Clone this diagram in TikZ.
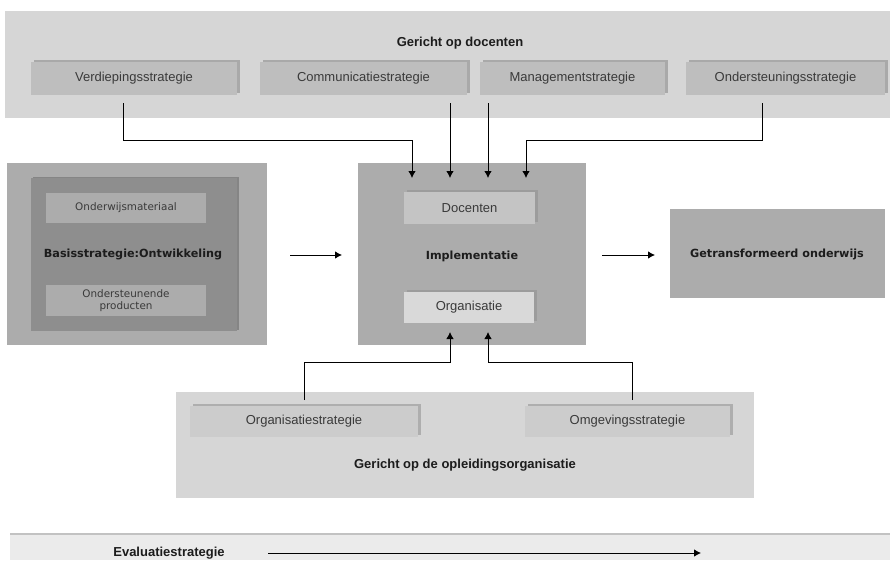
\documentclass[tikz,border=0pt]{standalone}
\usepackage{fontspec}
\setmainfont{Liberation Sans}
\newfontfamily\dejavu{DejaVu Sans}
\usetikzlibrary{arrows.meta,shadows}

% grey palette
\definecolor{panellight}{HTML}{D6D6D6}
\definecolor{stratfill}{HTML}{BEBEBE}
\definecolor{stratshadow}{HTML}{A9A9A9}
\definecolor{orgstrat}{HTML}{CCCCCC}
\definecolor{orgshadow}{HTML}{AEAEAE}
\definecolor{midgrey}{HTML}{ACACAC}
\definecolor{darkgrey}{HTML}{8E8E8E}
\definecolor{darkshadow}{HTML}{858585}
\definecolor{docfill}{HTML}{C4C4C4}
\definecolor{orgfill}{HTML}{D9D9D9}
\definecolor{implshadow}{HTML}{9C9C9C}
\definecolor{evalfill}{HTML}{EBEBEB}
\definecolor{evalrule}{HTML}{C2C2C2}
\definecolor{labeltext}{HTML}{3A3A3A}
\definecolor{titletext}{HTML}{1C1C1C}

\begin{document}
\begin{tikzpicture}[x=1pt,y=-1pt,
  area/.style={draw=none, inner sep=0pt, outer sep=0pt, anchor=north west},
  stratbox/.style={area, fill=stratfill, text=labeltext,
    font=\fontsize{13}{15}\selectfont,
    general shadow={fill=stratshadow, shadow xshift=2.5pt, shadow yshift=2pt}},
  orgbox/.style={stratbox, fill=orgstrat,
    general shadow={fill=orgshadow, shadow xshift=3pt, shadow yshift=2.5pt}},
  innerlabel/.style={area, fill=midgrey, text=labeltext,
    font=\dejavu\fontsize{10.4}{12}\selectfont, align=center},
  implbox/.style={area, text=labeltext, font=\fontsize{13}{15}\selectfont,
    general shadow={fill=implshadow, shadow xshift=2.5pt, shadow yshift=2pt}},
  title/.style={inner sep=0pt, text=titletext, font=\bfseries\fontsize{13}{15}\selectfont},
  heavytitle/.style={inner sep=0pt, text=titletext, font=\dejavu\bfseries\fontsize{11.2}{13}\selectfont},
  conn/.style={draw=black, line width=0.9pt, -{Latex[length=7pt,width=7.5pt]}},
]
\useasboundingbox (0,0) rectangle (890,560);
\fill[white] (0,0) rectangle (890,560);

% ---- teacher-oriented strategies ----
\node[area, fill=panellight, minimum width=885pt, minimum height=107pt] (docpanel) at (5,11) {};
\node[title] (doctitle) at (460,43) {Gericht op docenten};
\node[stratbox, minimum width=206pt, minimum height=33pt] (verd) at (31,62) {Verdiepingsstrategie};
\node[stratbox, minimum width=207pt, minimum height=33pt] (comm) at (260,62) {Communicatiestrategie};
\node[stratbox, minimum width=185pt, minimum height=33pt] (mgmt) at (480,62) {Managementstrategie};
\node[stratbox, minimum width=199pt, minimum height=33pt] (onds) at (686,62) {Ondersteuningsstrategie};

% ---- development (left) ----
\node[area, fill=midgrey, minimum width=260pt, minimum height=182pt] (devouter) at (7,163) {};
\node[area, fill=darkgrey, minimum width=206pt, minimum height=153pt,
  general shadow={fill=darkshadow, shadow xshift=1.5pt, shadow yshift=1.5pt}] (devinner) at (31,178) {};
\node[innerlabel, minimum width=160pt, minimum height=30pt] (owm) at (46,193) {Onderwijsmateriaal};
\node[heavytitle] (basis) at (133,254) {Basisstrategie:Ontwikkeling};
\node[innerlabel, minimum width=160pt, minimum height=31pt] (ondprod) at (46,285) {Ondersteunende\\producten};

% ---- implementation (centre) ----
\node[area, fill=midgrey, minimum width=228pt, minimum height=182pt] (impl) at (358,163) {};
\node[implbox, fill=docfill, minimum width=131pt, minimum height=32pt] (doc) at (404,192) {Docenten};
\node[heavytitle] (impltitle) at (472,256) {Implementatie};
\node[implbox, fill=orgfill, minimum width=130pt, minimum height=31pt] (org) at (404,292) {Organisatie};

% ---- result (right) ----
\node[area, fill=midgrey, minimum width=215pt, minimum height=89pt] (result) at (670,209) {};
\node[heavytitle] (resulttitle) at (777,254) {Getransformeerd onderwijs};

% ---- organisation-oriented strategies ----
\node[area, fill=panellight, minimum width=578pt, minimum height=106pt] (orgpanel) at (176,392) {};
\node[orgbox, minimum width=228pt, minimum height=31pt] (orgstrat) at (190,406) {Organisatiestrategie};
\node[orgbox, minimum width=205pt, minimum height=31pt] (omgstrat) at (525,406) {Omgevingsstrategie};
\node[title] (orgtitle) at (465,465) {Gericht op de opleidingsorganisatie};

% ---- evaluation bar ----
\node[area, fill=evalfill, minimum width=880pt, minimum height=27pt] (evalbar) at (10,533) {};
\draw[evalrule, line width=2pt] ([yshift=-1pt]evalbar.north west) -- ([yshift=-1pt]evalbar.north east);
\node[title] (evaltitle) at (169,553) {Evaluatiestrategie};

% ---- connector end points ----
\coordinate (verd-out) at (123,103);
\coordinate (comm-out) at (450,103);
\coordinate (mgmt-out) at (488,103);
\coordinate (onds-out) at (762,103);
\coordinate (verd-bend) at (412,140);
\coordinate (onds-bend) at (526,140);
\coordinate (impl-in1) at (412,178);
\coordinate (impl-in2) at (450,178);
\coordinate (impl-in3) at (488,178);
\coordinate (impl-in4) at (526,178);

\coordinate (orgstrat-out) at (304,400);
\coordinate (omgstrat-out) at (632,400);
\coordinate (orgstrat-bend) at (450,362);
\coordinate (omgstrat-bend) at (488,362);
\coordinate (impl-up1) at (450,332);
\coordinate (impl-up2) at (488,332);

\coordinate (dev-out) at (290,255);
\coordinate (impl-left) at (342,255);
\coordinate (impl-out) at (602,255);
\coordinate (result-in) at (655,255);
\coordinate (eval-start) at (268,553);
\coordinate (eval-end) at (701,553);

% ---- connectors ----
\draw[conn] (verd-out) |- (verd-bend) -- (impl-in1);
\draw[conn] (comm-out) -- (impl-in2);
\draw[conn] (mgmt-out) -- (impl-in3);
\draw[conn] (onds-out) |- (onds-bend) -- (impl-in4);

\draw[conn] (orgstrat-out) |- (orgstrat-bend) -- (impl-up1);
\draw[conn] (omgstrat-out) |- (omgstrat-bend) -- (impl-up2);

\draw[conn] (dev-out) -- (impl-left);
\draw[conn] (impl-out) -- (result-in);
\draw[conn] (eval-start) -- (eval-end);
\end{tikzpicture}
\end{document}
